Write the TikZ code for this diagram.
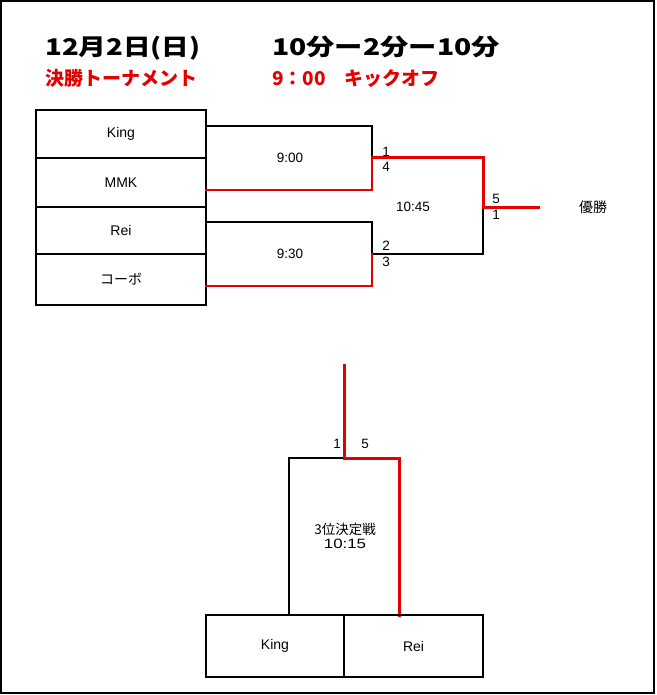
\documentclass[tikz,border=0pt]{standalone}
\usepackage{fontspec}
\setmainfont{Liberation Sans}
\newfontfamily\jp{Noto Sans CJK JP}
\begin{document}
\begin{tikzpicture}[x=1pt,y=-1pt,
  blk/.style={line width=1.3pt,black},
  redl/.style={line width=2pt,red!90!black,line cap=rect},
  redt/.style={line width=3pt,red!90!black,line cap=rect},
  team/.style={draw,line width=1.5pt,inner sep=0pt,font=\fontsize{14}{16}\selectfont},
  lbl/.style={inner sep=0pt,font=\fontsize{13.5}{15}\selectfont},
  hdr/.style={inner sep=0pt,anchor=base west,font=\jp\bfseries\fontsize{23}{28}\selectfont},
  sub/.style={inner sep=0pt,anchor=base west,text=red!90!black,font=\jp\bfseries\fontsize{19}{22}\selectfont}]
\useasboundingbox (0,0) rectangle (656,695);
\draw[line width=2pt] (1,1) rectangle (654,693);
% header
\node[hdr] (h1) at (45,56) {\scalebox{1.2}[1]{12月2日(日)}};
\node[hdr] (h2) at (272,56) {\scalebox{1.23}[1]{10分ー2分ー10分}};
\node[sub] (s1) at (45,86) {決勝トーナメント};
\node[sub] (s2) at (272,86) {9：00　キックオフ};
% team boxes
\node[team,minimum width=170pt,minimum height=48pt] (t1) at (121,134) {King};
\node[team,minimum width=170pt,minimum height=49pt] (t2) at (121,182.5) {MMK};
\node[team,minimum width=170pt,minimum height=47pt] (t3) at (121,230.5) {Rei};
\node[team,minimum width=170pt,minimum height=51pt] (t4) at (121,279.5) {\jp コーボ};
% bracket coordinates
\coordinate (a1) at (206,126); \coordinate (a2) at (372,126);
\coordinate (a3) at (372,158); \coordinate (a4) at (372,190); \coordinate (a5) at (206,190);
\coordinate (b1) at (206,222); \coordinate (b2) at (372,222);
\coordinate (b3) at (372,254); \coordinate (b4) at (372,286); \coordinate (b5) at (206,286);
\coordinate (c1) at (483,158); \coordinate (c2) at (483,207);
\coordinate (c3) at (483,254); \coordinate (c4) at (538,207);
\draw[blk] (a1) -- (a2) -- (a3);
\draw[blk] (b1) -- (b2) -- (b3);
\draw[blk] (b3) -- (c3) -- (c2);
\draw[redl] (a3) -- (a4) -- (a5);
\draw[redl] (b3) -- (b4) -- (b5);
\draw[redt] (a3) -- (c1) -- (c2) -- (c4);
% labels
\node[lbl] (m1) at (290,158) {9:00};
\node[lbl] (m2) at (290,254) {9:30};
\node[lbl] (m3) at (413,207) {10:45};
\node[lbl] (n1) at (386,152) {1};
\node[lbl] (n4) at (386,167) {4};
\node[lbl] (n2) at (386,246) {2};
\node[lbl] (n3) at (386,262) {3};
\node[lbl] (n5) at (496,199) {5};
\node[lbl] (n6) at (496,215) {1};
\node[lbl,font=\jp\fontsize{14}{15}\selectfont] (win) at (593,207) {優勝};
% third place
\coordinate (d0) at (344,365); \coordinate (d1) at (344,458);
\coordinate (d2) at (399,458); \coordinate (d3) at (399,615);
\coordinate (d4) at (289,458); \coordinate (d5) at (289,615);
\draw[blk] (d1) -- (d4) -- (d5);
\draw[redt] (d0) -- (d1) -- (d2) -- (d3);
\node[lbl] (p1) at (337,444) {1};
\node[lbl] (p5) at (365,444) {5};
\node[lbl,align=center,font=\fontsize{13.5}{14}\selectfont] (third) at (345,536) {{\jp 3位決定戦}\\\scalebox{1.25}[1]{10:15}};
\node[team,minimum width=138pt,minimum height=62pt] (k2) at (275,646) {King};
\node[team,minimum width=139pt,minimum height=62pt] (r2) at (413.5,646) {Rei};
\end{tikzpicture}
\end{document}
